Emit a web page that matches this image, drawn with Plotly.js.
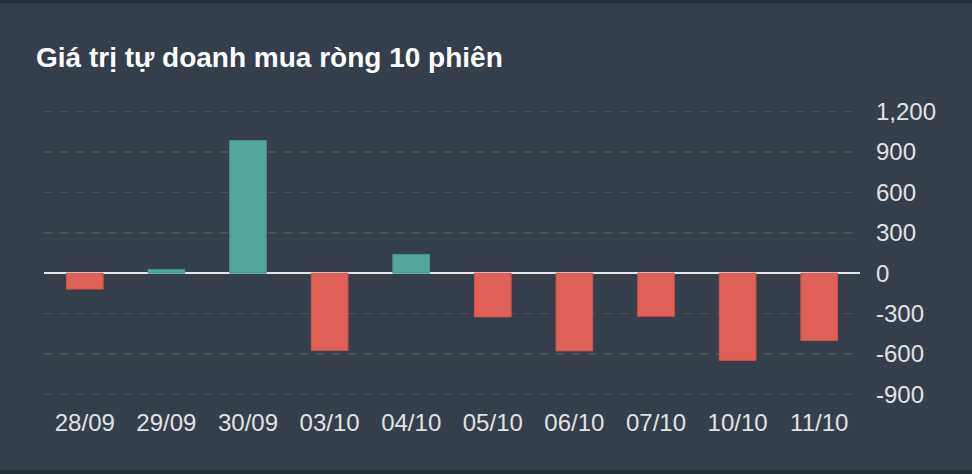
<!DOCTYPE html>
<html>
<head>
<meta charset="utf-8">
<script src="https://cdn.plot.ly/plotly-3.0.1.min.js"></script>
<style>
  html, body { margin: 0; padding: 0; background: #262e37; width: 972px; height: 474px; overflow: hidden; }
  #chart { position: absolute; left: 0; top: 3px; width: 972px; height: 467px; }
</style>
</head>
<body>
<div id="chart"></div>
<script>
// ngày giao dịch và giá trị mua ròng (tỷ đồng)
var days = ['28/09', '29/09', '30/09', '03/10', '04/10', '05/10', '06/10', '07/10', '10/10', '11/10'];
var netValues = [-118, 28, 985, -575, 140, -325, -578, -320, -648, -500];
var yTicks = [-900, -600, -300, 0, 300, 600, 900, 1200];
var yTickText = ['-900', '-600', '-300', '0', '300', '600', '900', '1,200'];

var UP = '#52a69a';
var DOWN = '#e05f57';

var barColors = netValues.map(function (v) { return v >= 0 ? UP : DOWN; });
var lineColors = netValues.map(function (v) { return v >= 0 ? '#4a938a' : '#c8534d'; });

var FONT = 'Liberation Sans, Arial, Helvetica, sans-serif';

var traces = [{
  x: days,
  y: netValues,
  type: 'bar',
  width: 0.45,
  marker: { color: barColors, line: { color: lineColors, width: 1 } },
  hoverinfo: 'none'
}];

var layout = {
  width: 972, height: 467,
  paper_bgcolor: '#343f4b',
  plot_bgcolor: '#343f4b',
  margin: { l: 44, r: 112, t: 102, b: 69 },
  title: {
    text: '<b>Giá trị tự doanh mua ròng 10 phiên</b>',
    x: 0, xref: 'paper', xanchor: 'left',
    y: 1, yref: 'container', yanchor: 'top',
    pad: { t: 44, l: -8 },
    font: { family: FONT, size: 28, color: '#ffffff' }
  },
  xaxis: {
    type: 'category',
    showgrid: false,
    showline: false,
    ticks: '',
    ticklabelstandoff: 5,
    tickfont: { family: FONT, size: 24, color: '#e2e2e2' }
  },
  yaxis: {
    side: 'right',
    range: [-950, 1250],
    tickvals: yTicks,
    ticktext: yTickText,
    showgrid: true,
    gridcolor: '#57544c',
    gridwidth: 1.5,
    griddash: '8px,8px',
    zeroline: true,
    zerolinecolor: '#e6e6e6',
    zerolinewidth: 2,
    showline: false,
    ticks: '',
    ticklabelstandoff: 15,
    tickfont: { family: FONT, size: 24, color: '#e2e2e2' }
  },
  showlegend: false,
  bargap: 0.55
};

Plotly.newPlot('chart', traces, layout, { displayModeBar: false, staticPlot: true });
</script>
</body>
</html>
